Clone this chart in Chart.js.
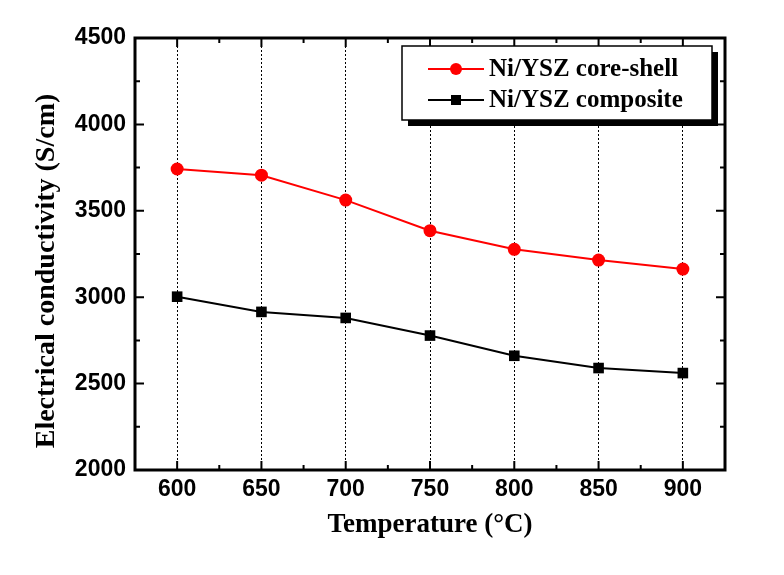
<!DOCTYPE html>
<html>
<head>
<meta charset="utf-8">
<script src="https://cdn.jsdelivr.net/npm/chart.js@4/dist/chart.umd.min.js"></script>
<style>
  html, body { margin: 0; padding: 0; background: #fff; }
  #wrap { width: 784px; height: 575px; position: relative; }
</style>
</head>
<body>
<div id="wrap"><canvas id="chart"></canvas></div>
<script>
// temperatures (°C) and measured conductivities (S/cm)
const temps = [600, 650, 700, 750, 800, 850, 900];
const coreShell = [3742, 3706, 3562, 3385, 3277, 3215, 3163];
const composite = [3003, 2915, 2880, 2778, 2661, 2590, 2561];
const seriesNames = ['Ni/YSZ core-shell', 'Ni/YSZ composite'];
const yTicks = [2000, 2500, 3000, 3500, 4000, 4500];
const yTitle = 'Electrical conductivity (S/cm)';

const serif = 'Liberation Serif, Times New Roman, serif';
const sans = 'Liberation Sans, Arial, sans-serif';

// inward ticks on all four sides + frame + y title
const frameTicks = {
    id: 'frameTicks',
    afterDraw(chart) {
        const { ctx, chartArea: a, scales: { x, y } } = chart;
        ctx.save();
        ctx.strokeStyle = '#000';
        ctx.lineWidth = 2;
        for (let v = 2000; v <= 4500; v += 250) {
            const py = y.getPixelForValue(v);
            const len = v % 500 === 0 ? 9 : 5;
            ctx.beginPath();
            ctx.moveTo(a.left, py); ctx.lineTo(a.left + len, py);
            ctx.moveTo(a.right, py); ctx.lineTo(a.right - len, py);
            ctx.stroke();
        }
        for (let v = 600; v <= 900; v += 25) {
            const px = x.getPixelForValue(v);
            const len = v % 50 === 0 ? 9 : 5;
            ctx.beginPath();
            ctx.moveTo(px, a.bottom); ctx.lineTo(px, a.bottom - len);
            ctx.moveTo(px, a.top); ctx.lineTo(px, a.top + len);
            ctx.stroke();
        }
        ctx.lineWidth = 3;
        ctx.strokeRect(a.left, a.top, a.right - a.left, a.bottom - a.top);

        // y axis title, sits a bit below the centre like the original
        ctx.translate(47, 271);
        ctx.rotate(-Math.PI / 2);
        ctx.fillStyle = '#000';
        ctx.font = 'bold 28px ' + serif;
        ctx.textAlign = 'center';
        ctx.textBaseline = 'middle';
        ctx.fillText(yTitle, 0, 0);
        ctx.restore();
    }
};

// boxed legend with drop shadow
const boxLegend = {
    id: 'boxLegend',
    afterDraw(chart) {
        const { ctx } = chart;
        const bx = 402, by = 46, bw = 310, bh = 74;
        ctx.save();
        ctx.fillStyle = '#000';
        ctx.fillRect(bx + 6, by + 6, bw, bh);
        ctx.fillStyle = '#fff';
        ctx.fillRect(bx, by, bw, bh);
        ctx.lineWidth = 1.5;
        ctx.strokeStyle = '#000';
        ctx.strokeRect(bx, by, bw, bh);
        chart.data.datasets.forEach((ds, i) => {
            const ry = 69 + i * 31;
            ctx.strokeStyle = ds.borderColor;
            ctx.lineWidth = 2;
            ctx.beginPath();
            ctx.moveTo(428, ry); ctx.lineTo(484, ry);
            ctx.stroke();
            ctx.fillStyle = ds.backgroundColor;
            if (ds.pointStyle === 'circle') {
                ctx.beginPath(); ctx.arc(456, ry, 6, 0, Math.PI * 2); ctx.fill();
            } else {
                ctx.fillRect(451, ry - 5, 10, 10);
            }
            ctx.fillStyle = '#000';
            ctx.font = 'bold 25px ' + serif;
            ctx.textBaseline = 'middle';
            ctx.fillText(ds.label, 489, ry + 1);
        });
        ctx.restore();
    }
};

new Chart(document.getElementById('chart'), {
    type: 'line',
    data: {
        datasets: [
            {
                label: seriesNames[0],
                data: temps.map((t, i) => ({ x: t, y: coreShell[i] })),
                borderColor: '#ff0000',
                backgroundColor: '#ff0000',
                borderWidth: 2,
                pointStyle: 'circle',
                pointRadius: 6.5,
                pointBorderWidth: 0
            },
            {
                label: seriesNames[1],
                data: temps.map((t, i) => ({ x: t, y: composite[i] })),
                borderColor: '#000',
                backgroundColor: '#000',
                borderWidth: 2,
                pointStyle: 'rect',
                pointRadius: 7.5,
                pointBorderWidth: 0
            }
        ]
    },
    options: {
        responsive: true,
        maintainAspectRatio: false,
        animation: false,
        layout: { padding: { top: 38, right: 59, bottom: 0, left: 0 } },
        plugins: { legend: { display: false }, tooltip: { enabled: false } },
        scales: {
            x: {
                type: 'linear',
                min: 575,
                max: 925,
                afterFit: s => { s.height = 105; },
                afterBuildTicks: s => { s.ticks = temps.map(v => ({ value: v })); },
                ticks: {
                    color: '#000',
                    padding: 6,
                    font: { family: sans, size: 23, weight: 'bold' },
                    callback: v => String(v)
                },
                grid: { color: '#000', lineWidth: 1, drawTicks: false },
                border: { display: false, dash: [2, 2] },
                title: {
                    display: true,
                    text: 'Temperature (°C)',
                    color: '#000',
                    font: { family: serif, size: 27, weight: 'bold' },
                    padding: { top: 0, bottom: 34 }
                }
            },
            y: {
                min: 2000,
                max: 4500,
                afterFit: s => { s.width = 135; },
                afterBuildTicks: s => { s.ticks = yTicks.map(v => ({ value: v })); },
                ticks: {
                    color: '#000',
                    padding: 9,
                    font: { family: sans, size: 23, weight: 'bold' },
                    callback: v => String(v)
                },
                grid: { display: false, drawTicks: false },
                border: { display: false },
                title: { display: false }
            }
        }
    },
    plugins: [frameTicks, boxLegend]
});
</script>
</body>
</html>
